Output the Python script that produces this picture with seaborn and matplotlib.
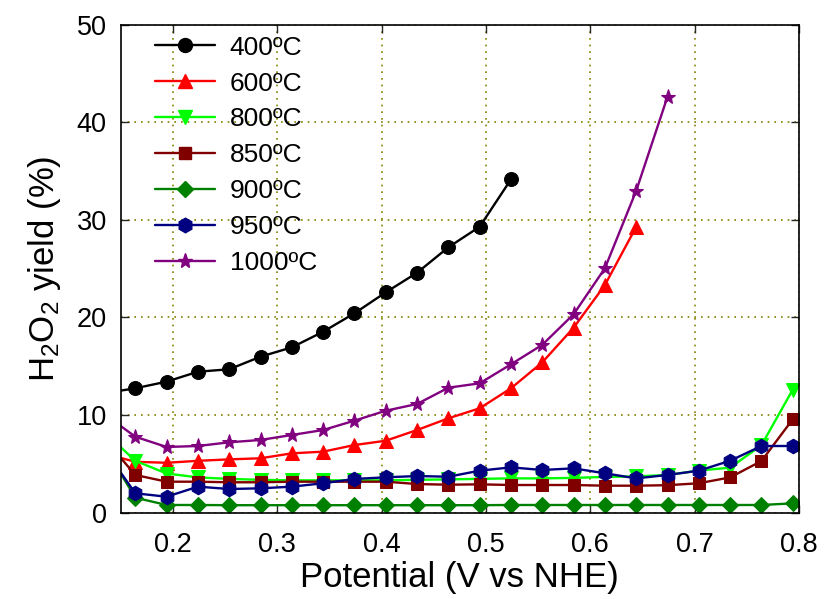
import matplotlib
matplotlib.use("Agg")
import matplotlib.pyplot as plt
import seaborn as sns
import pandas as pd
from matplotlib.lines import Line2D

# Potential (V vs NHE); first entry is the left-edge start of each curve (no marker)
potential = [0.150, 0.164, 0.194, 0.224, 0.254, 0.284, 0.314, 0.344, 0.374, 0.404,
             0.434, 0.464, 0.494, 0.524, 0.554, 0.584, 0.614, 0.644, 0.674,
             0.704, 0.734, 0.764, 0.794]

labels = ["400ºC", "600ºC", "800ºC", "850ºC", "900ºC", "950ºC", "1000ºC"]

y400 = [12.5, 12.74, 13.42, 14.44, 14.69, 15.98, 16.94, 18.54, 20.43, 22.58,
        24.59, 27.2, 29.31, 34.17]
y600 = [5.6, 5.2, 5.1, 5.3, 5.45, 5.56, 6.07, 6.24, 6.92, 7.36,
        8.46, 9.66, 10.69, 12.74, 15.4, 18.95, 23.33, 29.3]
y800 = [6.7, 5.3, 4.0, 3.6, 3.45, 3.35, 3.3, 3.3, 3.3, 3.3,
        3.35, 3.4, 3.45, 3.5, 3.5, 3.55, 3.65, 3.7, 3.85,
        4.3, 4.6, 6.9, 12.6]
y850 = [5.6, 3.85, 3.16, 3.16, 3.1, 3.1, 3.16, 3.16, 3.16, 3.16,
        2.92, 2.85, 2.89, 2.82, 2.82, 2.82, 2.75, 2.75, 2.8,
        3.0, 3.6, 5.28, 9.56]
y900 = [4.0, 1.52, 0.77, 0.77, 0.75, 0.75, 0.75, 0.75, 0.75, 0.75,
        0.75, 0.75, 0.75, 0.77, 0.77, 0.77, 0.77, 0.77, 0.77,
        0.77, 0.77, 0.77, 0.94]
y950 = [4.1, 1.97, 1.62, 2.65, 2.41, 2.48, 2.65, 3.0, 3.44, 3.61,
        3.74, 3.67, 4.29, 4.63, 4.36, 4.53, 4.02, 3.5, 3.85,
        4.29, 5.31, 6.82, 6.82]
y1000 = [8.87, 7.77, 6.72, 6.82, 7.2, 7.44, 7.95, 8.46, 9.42, 10.44,
         11.13, 12.8, 13.25, 15.2, 17.2, 20.33, 25.05, 33.0, 42.65]

series = [y400, y600, y800, y850, y900, y950, y1000]
colors = ["#000000", "#ff0000", "#00ff00", "#800000", "#008000", "#000080", "#800080"]
markers = ["o", "^", "v", "s", "D", "h", "*"]
msizes = [10, 10, 10, 8.5, 8.5, 10.5, 11]

sns.set_style("white")
plt.rcParams["font.family"] = ["Liberation Sans", "DejaVu Sans"]
plt.rcParams["mathtext.fontset"] = "custom"
plt.rcParams["mathtext.rm"] = "Liberation Sans"
plt.rcParams["mathtext.it"] = "Liberation Sans"
plt.rcParams["text.color"] = "black"

fig = plt.figure(figsize=(8.25, 5.99), dpi=100)
ax = fig.add_axes([0.1463, 0.1444, 0.9685 - 0.1463, 0.9583 - 0.1444])

handles = []
for lab, ys, c, m, ms in zip(labels, series, colors, markers, msizes):
    df = pd.DataFrame({"x": potential[:len(ys)], "y": ys})
    sns.lineplot(data=df, x="x", y="y", ax=ax, color=c, marker=m, markersize=ms,
                 markeredgecolor=c, markerfacecolor=c, linewidth=1.7,
                 markevery=list(range(1, len(ys))), sort=True, estimator=None)
    handles.append(Line2D([], [], color=c, marker=m, markersize=ms,
                          markeredgecolor=c, markerfacecolor=c, linewidth=1.7))

ax.set_xlim(0.15, 0.80)
ax.set_ylim(0, 50)
ax.set_xticks([0.2, 0.3, 0.4, 0.5, 0.6, 0.7, 0.8])
ax.set_xticklabels(["0.2", "0.3", "0.4", "0.5", "0.6", "0.7", "0.8"])
ax.set_yticks([0, 10, 20, 30, 40, 50])
ax.grid(True, color="#808000", linestyle=(0, (1, 3)), linewidth=1.2)
ax.tick_params(axis="both", direction="in", length=6, width=1, labelsize=19.5,
               labelcolor="black", top=True, right=True, bottom=True, left=True)
ax.tick_params(axis="x", pad=14)
ax.tick_params(axis="y", pad=10)
for sp in ax.spines.values():
    sp.set_color("black")
    sp.set_linewidth(1.2)

ax.set_xlabel("Potential (V vs NHE)", fontsize=25, labelpad=2, color="black")
ax.set_ylabel("H$_2$O$_2$ yield (%)", fontsize=25, labelpad=10, color="black")

leg = ax.legend(handles, labels, loc="upper left", bbox_to_anchor=(0.05, 0.978),
                frameon=False, fontsize=19, handlelength=2.3, handletextpad=0.55,
                labelspacing=0.45, borderpad=0, borderaxespad=0)

fig.savefig("out.png", dpi=100)
